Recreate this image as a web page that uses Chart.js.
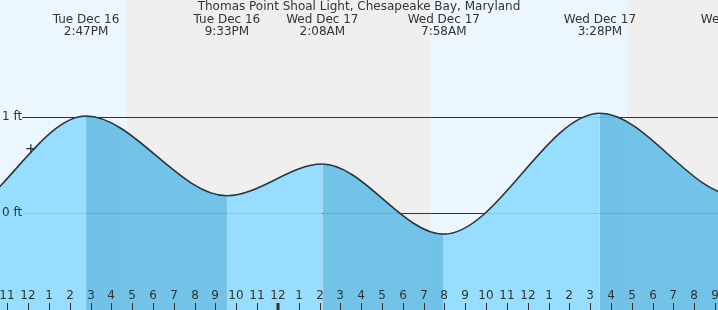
<!DOCTYPE html>
<html>
<head>
<meta charset="utf-8">
<script src="https://cdn.jsdelivr.net/npm/chart.js@4.4.1/dist/chart.umd.min.js"></script>
<style>
  html, body { margin: 0; padding: 0; background: #efefef; }
  #wrap { position: relative; width: 718px; height: 310px; }
</style>
</head>
<body>
<div id="wrap"><canvas id="c" width="718" height="310"></canvas></div>
<script>
// ---- Data (hours relative to Wed Dec 17 00:00, heights in ft) ----
const title = "Thomas Point Shoal Light, Chesapeake Bay, Maryland";
const tideHours   = [-22.3, -16.0, -9.217, -2.45, 2.133, 7.967, 15.467, 22.05, 28.0];
const tideHeights = [ 0.55, -0.10,  1.01,   0.18, 0.51, -0.22,  1.04,   0.18, 0.55];
const extremeDates = ["Tue Dec 16", "Tue Dec 16", "Wed Dec 17", "Wed Dec 17", "Wed Dec 17", "Wed Dec 17"];
const extremeTimes = ["2:47PM", "9:33PM", "2:08AM", "7:58AM", "3:28PM", ""];
const extremeHours = [-9.217, -2.45, 2.133, 7.967, 15.467, 22.05];
const nowHour = [-11.87];
const nowHeight = [0.67];
const dayStarts = [-20.0, 7.29];
const dayEnds   = [-7.25, 16.78];
const refLevels = [1, 0];
const refLabels = ["1 ft", "0 ft"];
const hourTicks = [-13,-12,-11,-10,-9,-8,-7,-6,-5,-4,-3,-2,-1,0,1,2,3,4,5,6,7,8,9,10,11,12,13,14,15,16,17,18,19,20,21];
const hourLabels = ["11","12","1","2","3","4","5","6","7","8","9","10","11","12","1","2","3","4","5","6","7","8","9","10","11","12","1","2","3","4","5","6","7","8","9"];
const midnightHours = [0];

const X_MIN = -13.35, X_MAX = 21.14, Y_MIN = -1.01, Y_MAX = 2.219;
const FONT = '12px "DejaVu Sans", sans-serif';
const TEXT = '#333333';
const RISE = 'rgba(142,218,255,0.9)';
const FALL = 'rgba(101,189,229,0.9)';

const decor = {
  id: 'decor',
  beforeDatasetsDraw(chart) {
    const {ctx, chartArea: a, scales: {x, y}} = chart;
    ctx.save();
    ctx.fillStyle = '#efefef';
    ctx.fillRect(a.left, a.top, a.right - a.left, a.bottom - a.top);
    ctx.fillStyle = '#ecf6fe';
    for (let i = 0; i < dayStarts.length; i++) {
      const x0 = Math.max(a.left, x.getPixelForValue(dayStarts[i]));
      const x1 = Math.min(a.right, x.getPixelForValue(dayEnds[i]));
      if (x1 > x0) ctx.fillRect(x0, a.top, x1 - x0, a.bottom - a.top);
    }
    ctx.strokeStyle = '#333333';
    ctx.lineWidth = 1;
    refLevels.forEach(v => {
      const py = Math.round(y.getPixelForValue(v)) + 0.5;
      ctx.beginPath();
      ctx.moveTo(22, py);
      ctx.lineTo(a.right, py);
      ctx.stroke();
    });
    ctx.restore();
  },
  afterDatasetsDraw(chart) {
    const {ctx, chartArea: a, scales: {x, y}} = chart;
    ctx.save();
    ctx.font = FONT;
    ctx.fillStyle = TEXT;
    ctx.textBaseline = 'middle';
    ctx.textAlign = 'center';
    ctx.fillText(title, 359, 7);
    extremeHours.forEach((h, i) => {
      const px = x.getPixelForValue(h);
      ctx.fillText(extremeDates[i], px, 20);
      if (extremeTimes[i]) ctx.fillText(extremeTimes[i], px, 32);
    });
    ctx.textAlign = 'left';
    refLevels.forEach((v, i) => {
      ctx.fillText(refLabels[i], 2, y.getPixelForValue(v));
    });
    ctx.textAlign = 'center';
    ctx.strokeStyle = '#333333';
    hourTicks.forEach((h, i) => {
      const px = Math.round(x.getPixelForValue(h));
      ctx.fillText(hourLabels[i], px, 296);
      const bold = midnightHours.includes(h);
      ctx.lineWidth = bold ? 3 : 1;
      ctx.beginPath();
      ctx.moveTo(bold ? px : px + 0.5, 303);
      ctx.lineTo(bold ? px : px + 0.5, 310);
      ctx.stroke();
    });
    ctx.restore();
  }
};

new Chart(document.getElementById('c'), {
  type: 'line',
  data: {
    datasets: [{
      order: 1,
      data: tideHours.map((h, i) => ({x: h, y: tideHeights[i]})),
      borderColor: '#333333',
      borderWidth: 1.6,
      pointRadius: 0,
      cubicInterpolationMode: 'monotone',
      fill: 'start',
      backgroundColor: RISE,
      segment: {
        backgroundColor: c => c.p1.parsed.y > c.p0.parsed.y ? RISE : FALL
      }
    }, {
      order: 0,
      data: nowHour.map((h, i) => ({x: h, y: nowHeight[i]})),
      showLine: false,
      pointStyle: 'cross',
      pointRadius: 4.5,
      borderColor: '#333333',
      pointBorderWidth: 1.3,
      fill: false
    }]
  },
  options: {
    responsive: false,
    animation: false,
    events: [],
    layout: { padding: 0, autoPadding: false },
    plugins: { legend: { display: false }, tooltip: { enabled: false } },
    scales: {
      x: { type: 'linear', min: X_MIN, max: X_MAX, display: false },
      y: { type: 'linear', min: Y_MIN, max: Y_MAX, display: false }
    }
  },
  plugins: [decor]
});
</script>
</body>
</html>
